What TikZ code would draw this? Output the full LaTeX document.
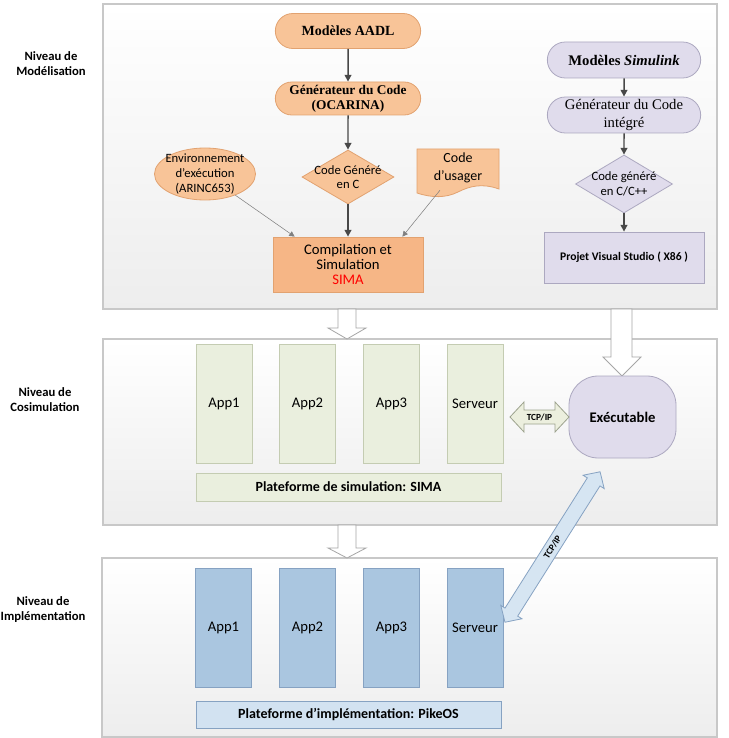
\documentclass[tikz,border=0pt]{standalone}
\usepackage{fontspec}
\setmainfont{Carlito}
\newfontfamily\tnr{Liberation Serif}
\usepackage{tikz}
\usetikzlibrary{shapes.geometric,shapes.misc,arrows.meta,calc}
\definecolor{orfill}{RGB}{248,196,152}
\definecolor{ordraw}{RGB}{226,162,112}
\definecolor{compfill}{RGB}{246,182,134}
\definecolor{lavfill}{RGB}{224,220,236}
\definecolor{lavdraw}{RGB}{172,168,192}
\definecolor{grnfill}{RGB}{234,239,222}
\definecolor{grndraw}{RGB}{196,204,178}
\definecolor{blufill}{RGB}{170,198,224}
\definecolor{bludraw}{RGB}{134,162,194}
\definecolor{platblue}{RGB}{210,226,241}
\definecolor{panelline}{RGB}{200,200,200}
\definecolor{arrowgray}{RGB}{72,72,72}
\definecolor{tcpblue}{RGB}{214,229,242}
\definecolor{tcpgreen}{RGB}{236,239,222}
\def\px{0.75pt}
\tikzset{
  lvl/.style={font=\fontsize{9.5}{11.2}\selectfont\bfseries,align=center},
  orbox/.style={fill=orfill,draw=ordraw,line width=0.6pt},
  lavbox/.style={fill=lavfill,draw=lavdraw,line width=0.6pt},
  term/.style={rounded rectangle,inner sep=1pt,align=center},
  lbl/.style={font=\fontsize{9.5}{11}\selectfont,align=center},
  appg/.style={rectangle,fill=grnfill,draw=grndraw,line width=0.6pt,
    minimum width=56*\px,minimum height=119*\px,font=\fontsize{11}{13}\selectfont},
  appb/.style={rectangle,fill=blufill,draw=bludraw,line width=0.6pt,
    minimum width=56*\px,minimum height=119*\px,font=\fontsize{11}{13}\selectfont},
  plat/.style={rectangle,line width=0.6pt,minimum width=305*\px,
    font=\fontsize{10.5}{12}\selectfont\bfseries},
  flow/.style={draw=arrowgray,line width=1.1pt,-{Triangle[length=5pt,width=5pt]}},
  thinflow/.style={draw=gray,line width=0.4pt,-{Triangle[length=4pt,width=4pt]}},
  hollow/.style={fill=white,draw=gray!70,line width=0.6pt},
  panel/.style={top color=white,bottom color=black!7,draw=panelline,line width=0.8pt},
  tcplbl/.style={inner sep=0pt,font=\fontsize{7}{8}\selectfont\bfseries},
}

\begin{document}
\begin{tikzpicture}[x=\px,y=-\px]
\useasboundingbox (0,0) rectangle (728,738);
\fill[white] (0,0) rectangle (728,738);
%% Panels
\shadedraw[panel] (103,4) rectangle (717,309);
\shadedraw[panel] (103,339) rectangle (717,525);
\shadedraw[panel] (102,558) rectangle (717,737);
%% Hollow arrows between levels
\draw[hollow] (338,309) -- (338,328) -- (328,328) -- (347,339) -- (366,328) -- (356,328) -- (356,309) -- cycle;
\draw[hollow] (338,525) -- (338,548) -- (328,548) -- (347,558) -- (366,548) -- (356,548) -- (356,525) -- cycle;
\draw[hollow] (611,309) -- (611,357) -- (603,357) -- (622,376) -- (641,357) -- (632,357) -- (632,309) -- cycle;
%% Level labels
\node[lvl] (lv1) at (51,64) {Niveau de\\Modélisation};
\node[lvl] (lv2) at (45,400) {Niveau de\\Cosimulation};
\node[lvl] (lv3) at (43,610) {Niveau de\\Implémentation};
%% AADL chain
\node[term,orbox,minimum width=148*\px,minimum height=35*\px,
  font=\tnr\fontsize{10.5}{12}\selectfont\bfseries] (aadl) at (348,31) {Modèles AADL};
\node[term,orbox,minimum width=148*\px,minimum height=33*\px,
  font=\tnr\fontsize{10}{11}\selectfont\bfseries] (gen) at (348,98.5) {Générateur du Code\\(OCARINA)};
\node[diamond,orbox,inner sep=0pt,minimum width=92*\px,minimum height=54*\px,
  label={[lbl,font=\fontsize{9.5}{10}\selectfont]center:Code Généré\\en C}] (cgc) at (348,177) {};
\node[ellipse,orbox,inner sep=0pt,minimum width=101*\px,minimum height=52*\px,
  label={[lbl]center:Environnement\\d’exécution\\(ARINC653)}] (env) at (205,174) {};
\draw[orbox] (417,149) -- (499,149) -- (499,189) .. controls (482,183) and (470,186) .. (458,192)
  .. controls (446,198) and (432,198) .. (417,193) -- cycle;
\node[minimum width=82*\px,minimum height=44*\px,align=center,
  font=\fontsize{10.5}{14}\selectfont] (usr) at (458,168) {Code\\d’usager};
\node[rectangle,fill=compfill,draw=ordraw,line width=0.6pt,minimum width=150*\px,minimum height=55*\px,
  align=center,font=\fontsize{11}{11.25}\selectfont] (comp) at (348,264.5)
  {Compilation et\\Simulation\\\textcolor{red}{SIMA}};
\draw[flow] (aadl) -- (gen);
\draw[flow] (gen) -- (cgc);
\draw[flow] (cgc) -- (comp);
\draw[thinflow] (env) -- ($(comp.north west)+(22,0)$);
\draw[thinflow] (usr) -- ($(comp.north east)+(-21,0)$);
%% Simulink chain
\node[term,lavbox,minimum width=156*\px,minimum height=36*\px,
  font=\tnr\fontsize{11}{12}\selectfont\bfseries] (sim) at (624,60) {Modèles \textit{Simulink}};
\node[term,lavbox,minimum width=156*\px,minimum height=36*\px,
  font=\tnr\fontsize{11}{13.5}\selectfont] (gint) at (624,115) {Générateur du Code\\intégré};
\node[diamond,lavbox,inner sep=0pt,minimum width=97*\px,minimum height=58*\px,
  label={[lbl,font=\fontsize{9.5}{11}\selectfont]center:Code généré\\en C/C++}] (cgx) at (624,184) {};
\node[rectangle,lavbox,minimum width=160*\px,minimum height=51*\px,
  font=\fontsize{8.7}{10}\selectfont\bfseries] (vs) at (624,257.5) {Projet Visual Studio ( X86 )};
\draw[flow] (sim) -- (gint);
\draw[flow] (gint) -- (cgx);
\draw[flow] (cgx) -- (vs);
%% Cosimulation level
\node[appg] (a1) at (224,403.5) {App1};
\node[appg] (a2) at (307.5,403.5) {App2};
\node[appg] (a3) at (391.5,403.5) {App3};
\node[appg] (s2) at (475,403.5) {Serveur};
\node[plat,fill=grnfill,draw=grndraw,minimum height=28*\px] (plat2) at (348.5,487) {Plateforme de simulation: SIMA};
\node[rectangle,rounded corners=22pt,lavbox,minimum width=107*\px,minimum height=82*\px,
  font=\fontsize{11}{13}\selectfont\bfseries] (exe) at (622.5,417) {Exécutable};
%% TCP/IP between Serveur and Executable
\draw[fill=tcpgreen,draw=grndraw!80!black,line width=0.6pt] (510,417) -- (524,402) -- (524,410) -- (555,410)
  -- (555,402) -- (569,417) -- (555,432) -- (555,424) -- (524,424) -- (524,432) -- cycle;
\node[tcplbl] (tcp1) at (539.5,417) {TCP/IP};
%% Implementation level
\node[appb] (b1) at (223.5,627.5) {App1};
\node[appb] (b2) at (307.5,627.5) {App2};
\node[appb] (b3) at (391.5,627.5) {App3};
\node[appb] (s3) at (475,627.5) {Serveur};
\node[plat,fill=platblue,draw=bludraw,minimum height=27*\px] (plat3) at (348.5,714.5) {Plateforme d’implémentation: PikeOS};
%% TCP/IP between PikeOS server and Executable
\begin{scope}[shift={(552.5,547)},rotate=57.7]
\draw[fill=tcpblue,draw=bludraw,line width=0.6pt] (-89,0) -- (-77,-12.5) -- (-77,-7.5) -- (77,-7.5)
  -- (77,-12.5) -- (89,0) -- (77,12.5) -- (77,7.5) -- (-77,7.5) -- (-77,12.5) -- cycle;
\node[tcplbl,rotate=57.7] (tcp2) at (0,0) {TCP/IP};
\end{scope}
\end{tikzpicture}
\end{document}
